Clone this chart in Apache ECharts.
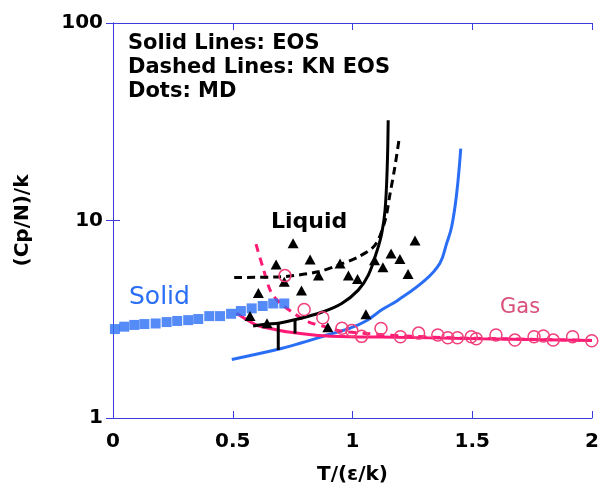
<!DOCTYPE html>
<html>
<head>
<meta charset="utf-8">
<script src="https://cdn.jsdelivr.net/npm/echarts@6/dist/echarts.min.js"></script>
<style>
  html, body { margin: 0; padding: 0; background: #fff; }
  #chart { width: 602px; height: 486px; }
</style>
</head>
<body>
<div id="chart"></div>
<script>
// MD dots: solid (squares), liquid (triangles), gas (circles)
var solidT = [0.008, 0.047, 0.089, 0.131, 0.178, 0.224, 0.268, 0.314, 0.356, 0.402, 0.447, 0.493, 0.534, 0.579, 0.625, 0.669, 0.715];
var solidCp = [2.82, 2.90, 2.96, 2.99, 3.01, 3.06, 3.10, 3.13, 3.17, 3.28, 3.28, 3.37, 3.48, 3.59, 3.69, 3.80, 3.80];

var liqT = [0.572, 0.607, 0.643, 0.681, 0.715, 0.752, 0.787, 0.823, 0.858, 0.897, 0.948, 0.983, 1.021, 1.056, 1.092, 1.127, 1.161, 1.198, 1.232, 1.261];
var liqCp = [3.28, 4.29, 3.02, 5.98, 4.90, 7.68, 4.42, 6.34, 5.26, 2.88, 6.06, 5.26, 5.06, 3.35, 6.30, 5.80, 6.81, 6.39, 5.36, 7.92];

var gasT = [0.718, 0.798, 0.876, 0.956, 0.997, 1.038, 1.119, 1.200, 1.276, 1.356, 1.398, 1.438, 1.496, 1.517, 1.599, 1.678, 1.758, 1.797, 1.838, 1.919, 1.999];
var gasCp = [5.26, 3.54, 3.22, 2.85, 2.77, 2.59, 2.84, 2.58, 2.69, 2.63, 2.55, 2.55, 2.58, 2.52, 2.63, 2.48, 2.58, 2.60, 2.48, 2.58, 2.46];

// EOS (solid lines)
var eosLiqT = [0.585, 0.635, 0.697, 0.767, 0.871, 0.955, 1.024, 1.066, 1.101, 1.122, 1.136, 1.145, 1.149];
var eosLiqCp = [2.92, 2.98, 3.03, 3.16, 3.43, 3.80, 4.44, 5.29, 6.94, 8.60, 11.3, 18.7, 32.2];

var eosSolT = [0.496, 0.690, 0.781, 0.894, 0.990, 1.056, 1.127, 1.190, 1.303, 1.365, 1.393, 1.414, 1.435, 1.452];
var eosSolCp = [1.98, 2.23, 2.39, 2.63, 2.85, 3.10, 3.56, 3.95, 4.99, 6.08, 7.65, 9.29, 13.7, 23.1];

var eosGasT = [0.516, 0.600, 0.656, 0.725, 0.856, 0.990, 1.115, 1.532, 2.0];
var eosGasCp = [3.39, 2.95, 2.84, 2.73, 2.62, 2.58, 2.57, 2.52, 2.47];

// KN EOS (dashed lines)
var knLiqT = [0.506, 0.690, 0.857, 0.948, 1.024, 1.094, 1.136, 1.157, 1.177, 1.195];
var knLiqCp = [5.15, 5.18, 5.50, 5.99, 6.54, 7.50, 10.0, 13.7, 18.7, 26.0];

var knGasT = [0.597, 0.628, 0.656, 0.685, 0.746, 0.815, 0.885, 0.955, 1.052, 1.198, 1.407, 2.0];
var knGasCp = [7.59, 5.67, 4.44, 3.95, 3.45, 3.07, 2.90, 2.75, 2.68, 2.61, 2.55, 2.47];

// vertical bars on the liquid EOS curve
var barT = [0.690, 0.760];
var barLow = [2.21, 2.68];
var barHigh = [3.01, 3.13];

var xTicks = ['0', '0.5', '1', '1.5', '2'];

function pairs(xs, ys) {
  return xs.map(function (x, i) { return [x, ys[i]]; });
}

var FONT = 'DejaVu Sans';
var FRAME = '#3c3cdc';
var BLUE = '#2a6ef5';
var PINK = '#ff1a75';

var chart = echarts.init(document.getElementById('chart'));

var barSeries = barT.map(function (t, i) {
  return {
    type: 'line',
    data: [[t, barLow[i]], [t, barHigh[i]]],
    symbol: 'none',
    lineStyle: { color: '#000', width: 3 },
    z: 4
  };
});

chart.setOption({
  animation: false,
  grid: { left: 113, right: 10, top: 23, bottom: 68, outerBoundsMode: 'none', containLabel: false },
  xAxis: [{
    type: 'value',
    min: 0, max: 2, interval: 0.5,
    name: 'T/(\u03b5/k)',
    nameLocation: 'middle',
    nameGap: 47,
    nameTextStyle: { fontFamily: FONT, fontWeight: 'bold', fontSize: 20, color: '#000' },
    axisLine: { lineStyle: { color: FRAME, width: 1 } },
    axisTick: { inside: true, length: 7, lineStyle: { color: FRAME } },
    axisLabel: {
      margin: 14,
      fontFamily: FONT, fontWeight: 'bold', fontSize: 20, color: '#000',
      formatter: function (v) { return xTicks[Math.round(v / 0.5)]; }
    },
    splitLine: { show: false }
  }, {
    type: 'value',
    position: 'top',
    min: 0, max: 2, interval: 0.5,
    axisLine: { lineStyle: { color: FRAME, width: 1 } },
    axisTick: { inside: true, length: 7, lineStyle: { color: FRAME } },
    axisLabel: { show: false },
    splitLine: { show: false }
  }],
  yAxis: [{
    type: 'log',
    logBase: 10,
    min: 1, max: 100,
    name: '(Cp/N)/k',
    nameLocation: 'middle',
    nameRotate: 90,
    nameGap: 80,
    nameTextStyle: { fontFamily: FONT, fontWeight: 'bold', fontSize: 20, color: '#000' },
    axisLine: { show: true, lineStyle: { color: FRAME, width: 1 } },
    axisTick: { inside: true, length: 7, lineStyle: { color: FRAME } },
    minorTick: { show: false },
    axisLabel: { margin: 10, fontFamily: FONT, fontWeight: 'bold', fontSize: 20, color: '#000' },
    splitLine: { show: false }
  }, {
    type: 'log',
    logBase: 10,
    min: 1, max: 100,
    position: 'right',
    axisLine: { show: true, lineStyle: { color: FRAME, width: 1 } },
    axisTick: { inside: true, length: 7, lineStyle: { color: FRAME } },
    axisLabel: { show: false },
    splitLine: { show: false }
  }],
  graphic: [
    {
      type: 'text', left: 128, top: 32,
      style: {
        text: 'Solid Lines: EOS\nDashed Lines: KN EOS\nDots: MD',
        font: 'bold 21px "DejaVu Sans"', lineHeight: 24, fill: '#000'
      }
    },
    {
      type: 'text', left: 271, top: 211,
      style: { text: 'Liquid', font: 'bold 22px "DejaVu Sans"', fill: '#000' }
    },
    {
      type: 'text', left: 129, top: 285,
      style: { text: 'Solid', font: '25px "DejaVu Sans"', fill: BLUE }
    },
    {
      type: 'text', left: 500, top: 297,
      style: { text: 'Gas', font: '21px "DejaVu Sans"', fill: '#d9507a' }
    }
  ],
  series: [
    {
      name: 'EOS solid', type: 'line', smooth: 0.4, symbol: 'none',
      data: pairs(eosSolT, eosSolCp),
      lineStyle: { color: BLUE, width: 3 }, z: 2
    },
    {
      name: 'EOS gas', type: 'line', smooth: 0.3, symbol: 'none',
      data: pairs(eosGasT, eosGasCp),
      lineStyle: { color: PINK, width: 3 }, z: 2
    },
    {
      name: 'KN gas', type: 'line', smooth: 0.3, symbol: 'none',
      data: pairs(knGasT, knGasCp),
      lineStyle: { color: PINK, width: 3, type: [8, 6] }, z: 2
    },
    {
      name: 'EOS liquid', type: 'line', smooth: 0.4, symbol: 'none',
      data: pairs(eosLiqT, eosLiqCp),
      lineStyle: { color: '#000', width: 3 }, z: 4
    },
    {
      name: 'KN liquid', type: 'line', smooth: 0.3, symbol: 'none',
      data: pairs(knLiqT, knLiqCp),
      lineStyle: { color: '#000', width: 3, type: [8, 5] }, z: 4
    }
  ].concat(barSeries).concat([
    {
      name: 'MD solid', type: 'scatter', symbol: 'rect', symbolSize: 10,
      data: pairs(solidT, solidCp),
      itemStyle: { color: BLUE }, z: 5
    },
    {
      name: 'MD liquid', type: 'scatter', symbol: 'triangle', symbolSize: [11, 10],
      data: pairs(liqT, liqCp),
      itemStyle: { color: '#000', opacity: 1 }, z: 5
    },
    {
      name: 'MD gas', type: 'scatter', symbol: 'circle', symbolSize: 12,
      data: pairs(gasT, gasCp),
      itemStyle: { color: 'rgba(0,0,0,0)', borderColor: '#f0407a', borderWidth: 1.5, opacity: 1 }, z: 6
    }
  ])
});
</script>
</body>
</html>
